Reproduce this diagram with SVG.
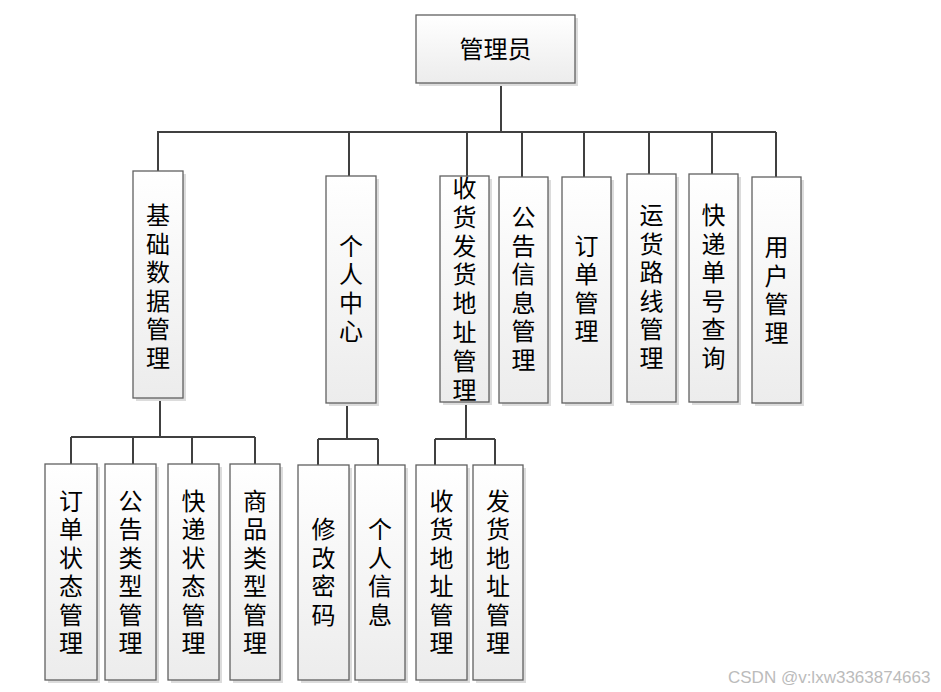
<svg xmlns="http://www.w3.org/2000/svg" width="941" height="692" viewBox="0 0 941 692">
<defs>
<linearGradient id="g" x1="0" y1="0" x2="0" y2="1">
<stop offset="0" stop-color="#ffffff"/>
<stop offset="1" stop-color="#ececec"/>
</linearGradient>
<style>
.box{fill:url(#g);stroke:#606060;stroke-width:1.3}
.sh{fill:#dcdcdc}
.t{font-family:"Noto Sans CJK SC","Noto Sans",sans-serif;font-size:24px;fill:#000;text-anchor:middle}
.c{stroke:#404040;stroke-width:2;fill:none}
.wm{font-family:"Liberation Sans",Arial,sans-serif;font-size:17px;fill:#bbbbbb}
</style>
</defs>
<rect width="941" height="692" fill="#fff"/>
<g id="connectors">
<path class="c" d="M501 83V132M157 132H776M158 132V171M349 132V176M467 132V176M522 132V177M584 132V177M649 132V174M712 132V174M776 132V177"/>
<path class="c" d="M160 398V437M71 437H255M71 437V464M133 437V464M192 437V464M255 437V464"/>
<path class="c" d="M347 403V439M318 439H378M318 439V465M378 439V465"/>
<path class="c" d="M466 402V439M435 439H495M435 439V465M495 439V465"/>
</g>
<g id="n0"><rect class="sh" x="419" y="18" width="159" height="68"/><rect class="box" x="416" y="15" width="159" height="68"/><text class="t" x="495.5" y="58">管理员</text></g>
<g id="n1"><rect class="sh" x="136" y="174" width="50" height="227"/><rect class="box" x="133" y="171" width="50" height="227"/>
<text class="t" x="158" y="224"><tspan x="158">基</tspan><tspan x="158" dy="28.6">础</tspan><tspan x="158" dy="28.6">数</tspan><tspan x="158" dy="28.6">据</tspan><tspan x="158" dy="28.6">管</tspan><tspan x="158" dy="28.6">理</tspan></text></g>
<g id="n2"><rect class="sh" x="329" y="179" width="50" height="227"/><rect class="box" x="326" y="176" width="50" height="227"/>
<text class="t" x="351" y="254.5"><tspan x="351">个</tspan><tspan x="351" dy="28.6">人</tspan><tspan x="351" dy="28.6">中</tspan><tspan x="351" dy="28.6">心</tspan></text></g>
<g id="n3"><rect class="sh" x="443" y="179" width="49" height="226"/><rect class="box" x="440" y="176" width="49" height="226"/>
<text class="t" x="464.5" y="197"><tspan x="464.5">收</tspan><tspan x="464.5" dy="28.8">货</tspan><tspan x="464.5" dy="28.8">发</tspan><tspan x="464.5" dy="28.8">货</tspan><tspan x="464.5" dy="28.8">地</tspan><tspan x="464.5" dy="28.8">址</tspan><tspan x="464.5" dy="28.8">管</tspan><tspan x="464.5" dy="28.8">理</tspan></text></g>
<g id="n4"><rect class="sh" x="502" y="180" width="49" height="226"/><rect class="box" x="499" y="177" width="49" height="226"/>
<text class="t" x="523.5" y="226"><tspan x="523.5">公</tspan><tspan x="523.5" dy="28.6">告</tspan><tspan x="523.5" dy="28.6">信</tspan><tspan x="523.5" dy="28.6">息</tspan><tspan x="523.5" dy="28.6">管</tspan><tspan x="523.5" dy="28.6">理</tspan></text></g>
<g id="n5"><rect class="sh" x="565" y="180" width="49" height="226"/><rect class="box" x="562" y="177" width="49" height="226"/>
<text class="t" x="586.5" y="254.5"><tspan x="586.5">订</tspan><tspan x="586.5" dy="28.6">单</tspan><tspan x="586.5" dy="28.6">管</tspan><tspan x="586.5" dy="28.6">理</tspan></text></g>
<g id="n6"><rect class="sh" x="630" y="177" width="49" height="228"/><rect class="box" x="627" y="174" width="49" height="228"/>
<text class="t" x="651.5" y="224"><tspan x="651.5">运</tspan><tspan x="651.5" dy="28.6">货</tspan><tspan x="651.5" dy="28.6">路</tspan><tspan x="651.5" dy="28.6">线</tspan><tspan x="651.5" dy="28.6">管</tspan><tspan x="651.5" dy="28.6">理</tspan></text></g>
<g id="n7"><rect class="sh" x="692" y="177" width="49" height="228"/><rect class="box" x="689" y="174" width="49" height="228"/>
<text class="t" x="713.5" y="224"><tspan x="713.5">快</tspan><tspan x="713.5" dy="28.6">递</tspan><tspan x="713.5" dy="28.6">单</tspan><tspan x="713.5" dy="28.6">号</tspan><tspan x="713.5" dy="28.6">查</tspan><tspan x="713.5" dy="28.6">询</tspan></text></g>
<g id="n8"><rect class="sh" x="755" y="180" width="49" height="226"/><rect class="box" x="752" y="177" width="49" height="226"/>
<text class="t" x="776.5" y="256"><tspan x="776.5">用</tspan><tspan x="776.5" dy="28.6">户</tspan><tspan x="776.5" dy="28.6">管</tspan><tspan x="776.5" dy="28.6">理</tspan></text></g>
<g id="n9"><rect class="sh" x="48" y="467" width="52" height="216"/><rect class="box" x="45" y="464" width="52" height="216"/>
<text class="t" x="71" y="509.5"><tspan x="71">订</tspan><tspan x="71" dy="28.5">单</tspan><tspan x="71" dy="28.5">状</tspan><tspan x="71" dy="28.5">态</tspan><tspan x="71" dy="28.5">管</tspan><tspan x="71" dy="28.5">理</tspan></text></g>
<g id="n10"><rect class="sh" x="108" y="467" width="51" height="216"/><rect class="box" x="105" y="464" width="51" height="216"/>
<text class="t" x="130.5" y="509.5"><tspan x="130.5">公</tspan><tspan x="130.5" dy="28.5">告</tspan><tspan x="130.5" dy="28.5">类</tspan><tspan x="130.5" dy="28.5">型</tspan><tspan x="130.5" dy="28.5">管</tspan><tspan x="130.5" dy="28.5">理</tspan></text></g>
<g id="n11"><rect class="sh" x="171" y="467" width="51" height="216"/><rect class="box" x="168" y="464" width="51" height="216"/>
<text class="t" x="193.5" y="509.5"><tspan x="193.5">快</tspan><tspan x="193.5" dy="28.5">递</tspan><tspan x="193.5" dy="28.5">状</tspan><tspan x="193.5" dy="28.5">态</tspan><tspan x="193.5" dy="28.5">管</tspan><tspan x="193.5" dy="28.5">理</tspan></text></g>
<g id="n12"><rect class="sh" x="233" y="467" width="50" height="216"/><rect class="box" x="230" y="464" width="50" height="216"/>
<text class="t" x="255" y="509.5"><tspan x="255">商</tspan><tspan x="255" dy="28.5">品</tspan><tspan x="255" dy="28.5">类</tspan><tspan x="255" dy="28.5">型</tspan><tspan x="255" dy="28.5">管</tspan><tspan x="255" dy="28.5">理</tspan></text></g>
<g id="n13"><rect class="sh" x="301" y="468" width="51" height="215"/><rect class="box" x="298" y="465" width="51" height="215"/>
<text class="t" x="323.5" y="538"><tspan x="323.5">修</tspan><tspan x="323.5" dy="28.5">改</tspan><tspan x="323.5" dy="28.5">密</tspan><tspan x="323.5" dy="28.5">码</tspan></text></g>
<g id="n14"><rect class="sh" x="358" y="468" width="50" height="215"/><rect class="box" x="355" y="465" width="50" height="215"/>
<text class="t" x="380" y="538"><tspan x="380">个</tspan><tspan x="380" dy="28.5">人</tspan><tspan x="380" dy="28.5">信</tspan><tspan x="380" dy="28.5">息</tspan></text></g>
<g id="n15"><rect class="sh" x="419" y="468" width="51" height="215"/><rect class="box" x="416" y="465" width="51" height="215"/>
<text class="t" x="441.5" y="509.5"><tspan x="441.5">收</tspan><tspan x="441.5" dy="28.5">货</tspan><tspan x="441.5" dy="28.5">地</tspan><tspan x="441.5" dy="28.5">址</tspan><tspan x="441.5" dy="28.5">管</tspan><tspan x="441.5" dy="28.5">理</tspan></text></g>
<g id="n16"><rect class="sh" x="476" y="468" width="50" height="215"/><rect class="box" x="473" y="465" width="50" height="215"/>
<text class="t" x="498" y="509.5"><tspan x="498">发</tspan><tspan x="498" dy="28.5">货</tspan><tspan x="498" dy="28.5">地</tspan><tspan x="498" dy="28.5">址</tspan><tspan x="498" dy="28.5">管</tspan><tspan x="498" dy="28.5">理</tspan></text></g>
<text class="wm" x="728" y="683">CSDN @v:lxw3363874663</text>
</svg>
